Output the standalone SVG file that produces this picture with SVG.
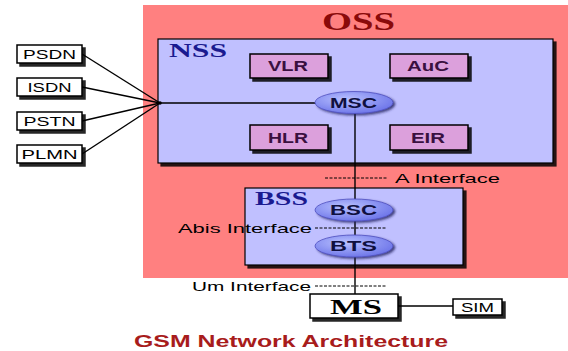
<svg xmlns="http://www.w3.org/2000/svg" width="568" height="351" viewBox="0 0 568 351">
<defs>
<radialGradient id="ell" cx="0.4" cy="0.35" r="0.7">
<stop offset="0" stop-color="#b8c0ff"/>
<stop offset="1" stop-color="#6a72e8"/>
</radialGradient>
<filter id="sh" x="-10%" y="-10%" width="130%" height="140%">
<feDropShadow dx="3" dy="3" stdDeviation="0.6" flood-color="#000" flood-opacity="0.85"/>
</filter>
<filter id="esh" x="-10%" y="-20%" width="130%" height="150%">
<feDropShadow dx="2" dy="1.5" stdDeviation="0.8" flood-color="#202060" flood-opacity="0.8"/>
</filter>
</defs>
<style>
.ext{fill:#fff;stroke:#000;stroke-width:1.5}
.extt{font-family:"Liberation Sans",Arial,sans-serif;font-size:13px;fill:#000;text-anchor:middle}
.db{fill:#dca0dc;stroke:#000;stroke-width:1.5}
.dbt{font-family:"Liberation Sans",Arial,sans-serif;font-size:14px;font-weight:bold;fill:#3a1040;text-anchor:middle}
.el{fill:url(#ell);stroke:#5050c0;stroke-width:0.8}
.elt{font-family:"Liberation Sans",Arial,sans-serif;font-size:14px;font-weight:bold;fill:#101040;text-anchor:middle}
.ln{stroke:#000;stroke-width:1.4;fill:none}
.ds{stroke:#000;stroke-width:1;stroke-dasharray:3,1.5;fill:none}
.ift{font-family:"Liberation Sans",Arial,sans-serif;font-size:13px;fill:#000}
.sys{font-family:"Liberation Serif","Times New Roman",serif;font-weight:bold;fill:#1a1a90}
</style>
<rect width="568" height="351" fill="#fff"/>
<g id="oss">
<rect x="143" y="5" width="425" height="273" fill="#ff8080"/>
<text x="322" y="30" textLength="73" lengthAdjust="spacingAndGlyphs" font-family="Liberation Serif,Times New Roman,serif" font-weight="bold" font-size="25" fill="#8a0a0a">OSS</text>
</g>
<g id="nss">
<rect x="158" y="39" width="395" height="124" fill="#c0c0ff" stroke="#000" stroke-width="1.2" filter="url(#sh)"/>
<text x="169" y="57" class="sys" font-size="19" textLength="58" lengthAdjust="spacingAndGlyphs">NSS</text>
</g>
<g id="bss">
<rect x="245" y="188" width="218" height="77" fill="#c0c0ff" stroke="#000" stroke-width="1.2" filter="url(#sh)"/>
<text x="255" y="205" class="sys" font-size="19" textLength="53" lengthAdjust="spacingAndGlyphs">BSS</text>
</g>
<g id="connectors">
<line class="ln" x1="82" y1="54" x2="160" y2="103"/>
<line class="ln" x1="82" y1="87" x2="160" y2="103"/>
<line class="ln" x1="82" y1="121" x2="160" y2="103"/>
<line class="ln" x1="82" y1="154" x2="160" y2="103"/>
<circle cx="160" cy="103" r="1.8" fill="#000"/>
<line class="ln" x1="160" y1="103" x2="330" y2="103"/>
<line class="ln" x1="355" y1="103" x2="355" y2="294"/>
<line class="ln" x1="398" y1="306" x2="453" y2="306"/>
<line class="ds" x1="325" y1="178" x2="387" y2="178"/>
<line class="ds" x1="315" y1="228" x2="387" y2="228"/>
<line class="ds" x1="315" y1="286" x2="387" y2="286"/>
</g>
<text class="ift" x="395" y="182.5" textLength="105" lengthAdjust="spacingAndGlyphs">A Interface</text>
<text class="ift" x="178" y="232.5" textLength="134" lengthAdjust="spacingAndGlyphs">Abis Interface</text>
<text class="ift" x="192" y="290.5" textLength="119" lengthAdjust="spacingAndGlyphs">Um Interface</text>
<g id="psdn"><rect class="ext" x="17" y="45" width="65" height="18" filter="url(#sh)"/><text class="extt" x="49.5" y="59" textLength="53" lengthAdjust="spacingAndGlyphs">PSDN</text></g>
<g id="isdn"><rect class="ext" x="17" y="78" width="65" height="18" filter="url(#sh)"/><text class="extt" x="49.5" y="92" textLength="44" lengthAdjust="spacingAndGlyphs">ISDN</text></g>
<g id="pstn"><rect class="ext" x="17" y="112" width="65" height="18" filter="url(#sh)"/><text class="extt" x="49.5" y="126" textLength="52" lengthAdjust="spacingAndGlyphs">PSTN</text></g>
<g id="plmn"><rect class="ext" x="17" y="145" width="65" height="18" filter="url(#sh)"/><text class="extt" x="49.5" y="159" textLength="56" lengthAdjust="spacingAndGlyphs">PLMN</text></g>
<g id="vlr"><rect class="db" x="250" y="54" width="78" height="24" filter="url(#sh)"/><text class="dbt" x="288" y="71" textLength="40" lengthAdjust="spacingAndGlyphs">VLR</text></g>
<g id="auc"><rect class="db" x="390" y="54" width="78" height="24" filter="url(#sh)"/><text class="dbt" x="428" y="71" textLength="42" lengthAdjust="spacingAndGlyphs">AuC</text></g>
<g id="hlr"><rect class="db" x="250" y="125" width="78" height="25" filter="url(#sh)"/><text class="dbt" x="288" y="142.5" textLength="40" lengthAdjust="spacingAndGlyphs">HLR</text></g>
<g id="eir"><rect class="db" x="390" y="125" width="78" height="25" filter="url(#sh)"/><text class="dbt" x="428" y="142.5" textLength="34" lengthAdjust="spacingAndGlyphs">EIR</text></g>
<g id="msc"><ellipse class="el" cx="354" cy="102.5" rx="39" ry="11" filter="url(#esh)"/><text class="elt" x="353.5" y="107.5" textLength="47" lengthAdjust="spacingAndGlyphs">MSC</text></g>
<g id="bsc"><ellipse class="el" cx="354" cy="210" rx="39" ry="11" filter="url(#esh)"/><text class="elt" x="353.5" y="215" textLength="47" lengthAdjust="spacingAndGlyphs">BSC</text></g>
<g id="bts"><ellipse class="el" cx="354" cy="246" rx="39" ry="11" filter="url(#esh)"/><text class="elt" x="353.5" y="251" textLength="47" lengthAdjust="spacingAndGlyphs">BTS</text></g>
<g id="ms"><rect class="ext" x="310" y="294" width="88" height="24" filter="url(#sh)"/><text x="330" y="313.5" textLength="52" lengthAdjust="spacingAndGlyphs" font-family="Liberation Serif,Times New Roman,serif" font-weight="bold" font-size="22" fill="#000">MS</text></g>
<g id="sim"><rect class="ext" x="453" y="299" width="49" height="16" filter="url(#sh)"/><text class="extt" x="477.5" y="312" textLength="33" lengthAdjust="spacingAndGlyphs">SIM</text></g>
<text x="134" y="346.5" textLength="314" lengthAdjust="spacingAndGlyphs" font-family="Liberation Sans,Arial,sans-serif" font-weight="bold" font-size="17" fill="#a81c1c">GSM Network Architecture</text>
</svg>
